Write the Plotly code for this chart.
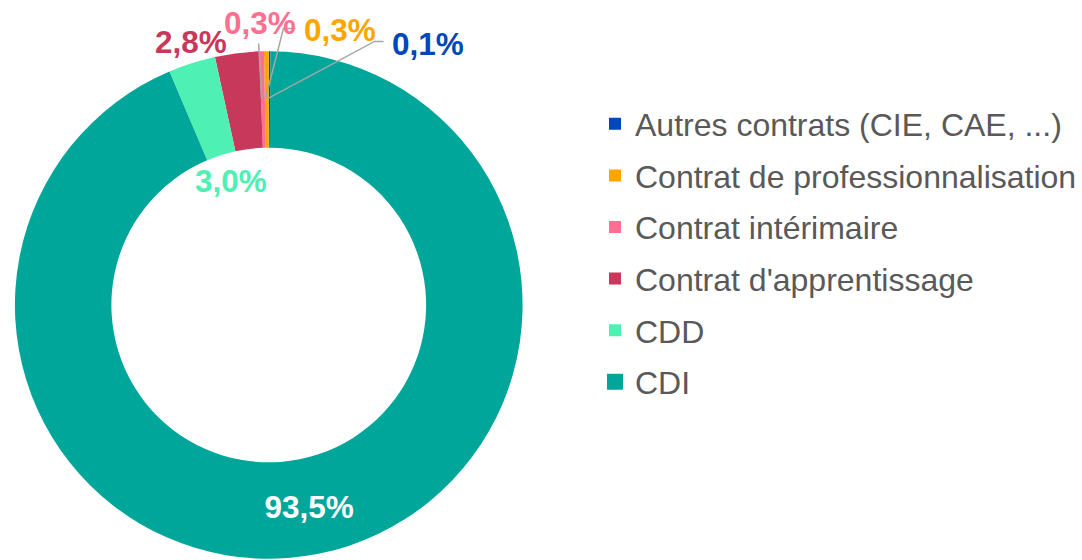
import math
import plotly.graph_objects as go

labels = [
    "Autres contrats (CIE, CAE, ...)",
    "Contrat de professionnalisation",
    "Contrat intérimaire",
    "Contrat d'apprentissage",
    "CDD",
    "CDI",
]
values = [0.1, 0.3, 0.3, 2.8, 3.0, 93.5]
colors = ["#0047BB", "#FFA500", "#FF6F91", "#C8385A", "#4FF0B4", "#00A699"]

W, H = 1082, 560
CX, CY, R = 270, 305, 255
HOLE = 0.62
FONT = "Arial, Liberation Sans, sans-serif"

# label placement relative to the middle of each slice (pixels)
label_style = {
    "Autres contrats (CIE, CAE, ...)": dict(pos=(161, -54), leader=[(107, -57), (116, -57)]),
    "Contrat de professionnalisation": dict(pos=(75, -68), leader=[(18, -70), (30, -70)]),
    "Contrat intérimaire": dict(pos=(-2, -76), leader=[(-3, -55)]),
    "Contrat d'apprentissage": dict(pos=(-51, -58), leader=[]),
    "CDD": dict(pos=(26, 72), leader=[]),
}


def px(x):
    return x / W


def py(y):
    return 1 - y / H


total = sum(values)
r_mid = R * (1 + HOLE) / 2
anchors = []
cum = 0
for v in values:
    ang = 2 * math.pi * (cum + v / 2) / total
    anchors.append((CX - r_mid * math.sin(ang), CY - r_mid * math.cos(ang)))
    cum += v

fig = go.Figure()

fig.add_trace(go.Pie(
    labels=labels,
    values=values,
    sort=False,
    hole=HOLE,
    marker=dict(colors=colors, line=dict(width=0)),
    textposition=["none"] * 5 + ["inside"],
    texttemplate="%{percent:.1%}",
    insidetextorientation="horizontal",
    textfont=dict(family=FONT, size=31.5, color="white", weight="bold"),
    domain=dict(x=[px(CX - R), px(CX + R)], y=[py(CY + R), py(CY - R)]),
    showlegend=False,
    hoverinfo="label+percent",
))

# legend entries
for lab, col in zip(labels, colors):
    fig.add_trace(go.Scatter(
        x=[None], y=[None],
        mode="markers",
        marker=dict(symbol="square", size=16 if lab == "CDI" else 12, color=col),
        name=lab,
        legendgroup=lab,
    ))

shapes = []
annotations = []
for lab, v, col, (ax, ay) in zip(labels, values, colors, anchors):
    if lab not in label_style:
        continue
    st = label_style[lab]
    if st["leader"]:
        pts = [(ax, ay)] + [(ax + dx, ay + dy) for dx, dy in st["leader"]]
        path = "M " + " L ".join(f"{px(x)},{py(y)}" for x, y in pts)
        shapes.append(dict(
            type="path", path=path, xref="paper", yref="paper",
            line=dict(color="#A6A6A6", width=1.5),
        ))
    lx, ly = ax + st["pos"][0], ay + st["pos"][1]
    annotations.append(dict(
        x=px(lx), y=py(ly), xref="paper", yref="paper",
        text="<b>" + f"{v:.1f}%".replace(".", ",") + "</b>",
        showarrow=False, xanchor="center", yanchor="middle",
        font=dict(family=FONT, size=31.5, color=col),
    ))

fig.update_layout(
    width=W,
    height=H,
    margin=dict(l=0, r=0, t=0, b=0, pad=0),
    paper_bgcolor="white",
    plot_bgcolor="white",
    separators=", ",
    xaxis=dict(visible=False),
    yaxis=dict(visible=False),
    shapes=shapes,
    annotations=annotations,
    legend=dict(
        x=px(598), y=py(253), xanchor="left", yanchor="middle",
        font=dict(family=FONT, size=32, color="#595959"),
        tracegroupgap=7,
        itemsizing="trace",
        bgcolor="rgba(0,0,0,0)",
    ),
)

# the page's default body margin would push the figure off the window
fig.write_html(
    "out.html",
    config={"displayModeBar": False},
    post_script="document.body.style.margin = '0';",
)
